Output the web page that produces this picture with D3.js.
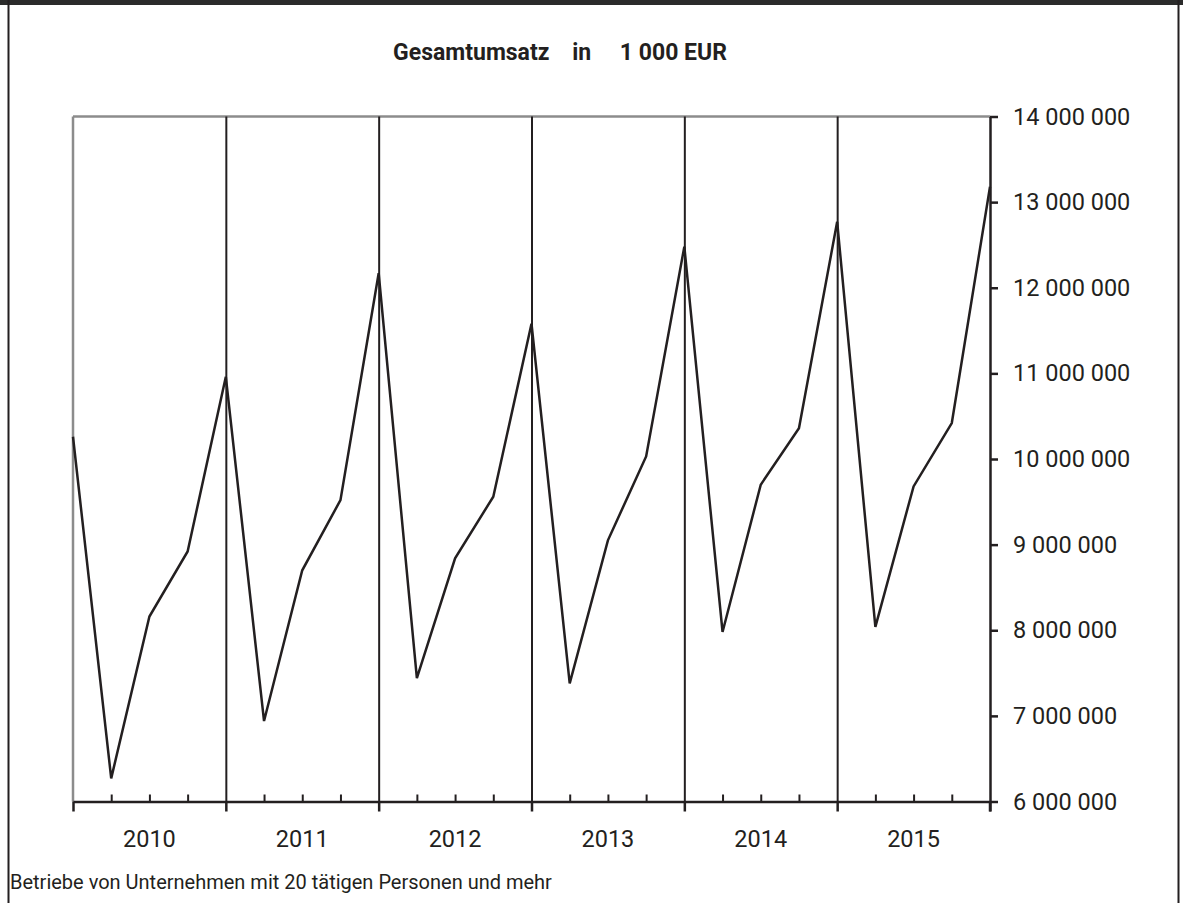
<!DOCTYPE html>
<html><head><meta charset="utf-8">
<script src="https://cdn.jsdelivr.net/npm/d3@7"></script>
<style>
html,body{margin:0;padding:0;background:#fff;}
svg{display:block;}
text{font-family:Roboto,"Open Sans",sans-serif;fill:#231f20;}
</style></head>
<body>
<svg id="c" width="1183" height="903"></svg>
<script>
// ---- data ----
const years = ["2010","2011","2012","2013","2014","2015"];
const periods = d3.range(25); // quarter positions 0..24
const umsatz = [10260000, 6270000, 8160000, 8920000, 10960000,
                6940000, 8700000, 9520000, 12170000,
                7440000, 8840000, 9560000, 11580000,
                7380000, 9050000, 10030000, 12480000,
                7980000, 9700000, 10360000, 12770000,
                8040000, 9680000, 10420000, 13180000];
const yTicks = [6000000,7000000,8000000,9000000,10000000,11000000,12000000,13000000,14000000];
const title = "Gesamtumsatz    in     1 000 EUR";
const footnote = "Betriebe von Unternehmen mit 20 tätigen Personen und mehr";

const svg = d3.select("#c");
const ink = "#231f20";

// outer frame
svg.append("rect").attr("x",0).attr("y",0).attr("width",1183).attr("height",5).attr("fill","#2b2b2b");
svg.append("line").attr("x1",8.5).attr("x2",8.5).attr("y1",0).attr("y2",903).attr("stroke",ink).attr("stroke-width",2);
svg.append("line").attr("x1",1178.5).attr("x2",1178.5).attr("y1",0).attr("y2",903).attr("stroke",ink).attr("stroke-width",2);

const L = 73, R = 990, T = 116.5, B = 801.5;
const x = d3.scaleLinear().domain([0,24]).range([L,R]);
const y = d3.scaleLinear().domain([6000000,14000000]).range([B,T]);

// title
svg.append("text").attr("x",560).attr("y",60).attr("text-anchor","middle")
  .style("white-space","pre").attr("font-size",23).attr("font-weight","bold").text(title);

// plot frame (gray top + left)
svg.append("line").attr("x1",L).attr("x2",R).attr("y1",T).attr("y2",T).attr("stroke","#8c8c8c").attr("stroke-width",2.5);
svg.append("line").attr("x1",L).attr("x2",L).attr("y1",T).attr("y2",B).attr("stroke","#8c8c8c").attr("stroke-width",2.5);

// year boundary gridlines
const majors = periods.filter(i => i % 4 === 0);
const minors = periods.filter(i => i % 4 !== 0);
const grid = d3.axisBottom(x).tickValues(majors.filter(i => i>0 && i<24)).tickSize(-(B-T)).tickFormat("");
svg.append("g").attr("transform",`translate(0,${B})`).call(grid)
  .call(g => g.select(".domain").remove())
  .call(g => g.selectAll(".tick line").attr("stroke",ink).attr("stroke-width",2));

// x axis: minor ticks up, major ticks down
const xMinor = d3.axisBottom(x).tickValues(minors).tickSize(-7).tickFormat("");
svg.append("g").attr("transform",`translate(0,${B})`).call(xMinor)
  .call(g => g.select(".domain").remove())
  .call(g => g.selectAll(".tick line").attr("stroke",ink).attr("stroke-width",2));
const xMajor = d3.axisBottom(x).tickValues(majors).tickSize(10).tickSizeOuter(0).tickFormat("");
svg.append("g").attr("transform",`translate(0,${B})`).call(xMajor)
  .call(g => g.select(".domain").attr("stroke",ink).attr("stroke-width",2.5))
  .call(g => g.selectAll(".tick line").attr("stroke",ink).attr("stroke-width",2.5));

// year labels centred in each year span
const xb = d3.scaleBand().domain(years).range([L,R]);
svg.append("g").selectAll("text").data(years).join("text")
  .attr("x", d => xb(d) + xb.bandwidth()/2).attr("y",847)
  .attr("text-anchor","middle").attr("font-size",23.5).text(d => d);

// y axis on the right
const loc = d3.formatLocale({decimal:",",thousands:" ",grouping:[3],currency:["","€"]});
const yAxis = d3.axisRight(y).tickValues(yTicks).tickSize(8).tickSizeOuter(0).tickPadding(15).tickFormat(loc.format(",d"));
svg.append("g").attr("transform",`translate(${R},0)`).call(yAxis)
  .call(g => g.select(".domain").attr("stroke",ink).attr("stroke-width",2.5))
  .call(g => g.selectAll(".tick line").attr("stroke",ink).attr("stroke-width",2.5))
  .call(g => g.selectAll(".tick text").attr("font-size",23.5).attr("fill",ink)
     .attr("font-family","Roboto,'Open Sans',sans-serif"));
svg.append("line").attr("x1",R).attr("x2",R).attr("y1",B).attr("y2",B+10).attr("stroke",ink).attr("stroke-width",2.5);

// line series
const line = d3.line().x((d,i) => x(periods[i])).y(d => y(d));
svg.append("path").datum(umsatz).attr("d",line).attr("fill","none")
  .attr("stroke",ink).attr("stroke-width",2.5).attr("stroke-linejoin","miter");

// footnote
svg.append("text").attr("x",10).attr("y",889).attr("font-size",20).text(footnote);
</script>
</body></html>
